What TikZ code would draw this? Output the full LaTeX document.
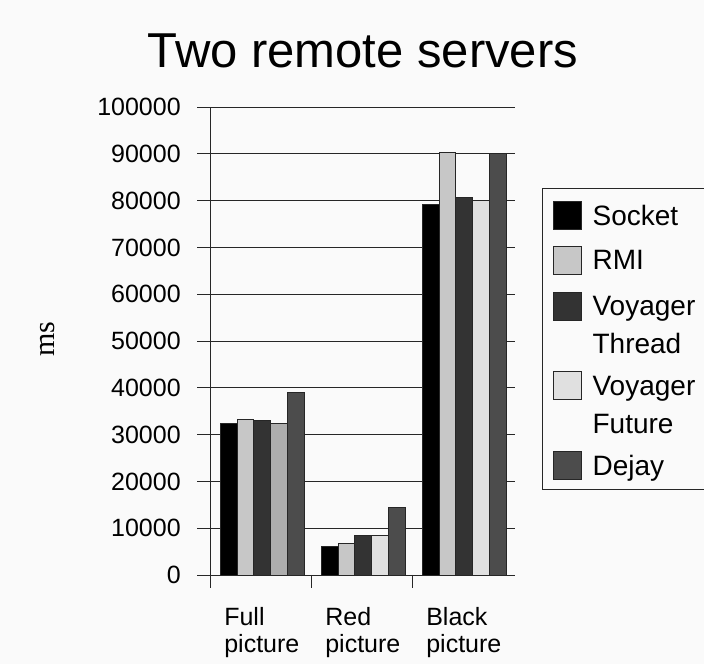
\documentclass[tikz,border=0pt]{standalone}
\usepackage{fontspec}
\setmainfont{Liberation Sans}
\newfontfamily\unitfont{Liberation Serif}
\usepackage{tikz}
\usetikzlibrary{positioning}
\definecolor{socket}{gray}{0}
\definecolor{rmi}{gray}{0.78}
\definecolor{vthread}{gray}{0.2}
\definecolor{vfuture}{gray}{0.88}
\definecolor{vfutureb}{gray}{0.68}
\definecolor{dejay}{gray}{0.3}
\definecolor{paper}{gray}{0.98}

\begin{document}
\begin{tikzpicture}[x=1pt,y=1pt,semithick]
\tikzstyle{bar} = [draw=black!85, line width=0.6pt]
\tikzstyle{grid} = [draw=black!85, line width=0.8pt]
\tikzstyle{ylabel} = [anchor=east, inner sep=0pt, font=\fontsize{25}{25}\selectfont]
\tikzstyle{catlabel} = [inner sep=0pt, align=left, font=\fontsize{25}{27}\selectfont]
\tikzstyle{swatch} = [draw=black!85, line width=0.6pt, minimum size=28pt, inner sep=0pt]
\tikzstyle{entry} = [inner sep=0pt, align=left, font=\fontsize{28}{38}\selectfont]

\useasboundingbox[fill=paper] (0,0) rectangle (704,664);

\node (title) [anchor=base, inner sep=0pt, font=\fontsize{49}{49}\selectfont] at (363,596) {Two remote servers};
\node (unit) [rotate=90, inner sep=0pt, font=\unitfont\fontsize{30}{30}\selectfont] at (48,325) {ms};

\begin{scope}[shift={(210,89)}, y=4.68pt]
% grid and value axis
\foreach \v in {1,...,10}
{
   \draw[grid] (-13pt,\v*10) -- (305,\v*10);
}
\foreach \v in {0,...,10}
{
   \node[ylabel] (Y\v) at (-29,\v*10) {\the\numexpr \v*10000\relax};
}

% bars
\foreach \c/\bars in {0/{32.4/socket,33.2/rmi,33.0/vthread,32.4/vfutureb,39.0/dejay},
                      1/{6.2/socket,6.8/rmi,8.5/vthread,8.5/vfuture,14.5/dejay},
                      2/{79.3/socket,90.4/rmi,80.8/vthread,80.1/vfuture,90.2/dejay}}
{
   \foreach \v/\col [count=\i from 0] in \bars
   {
      \draw[bar, fill=\col] ({10+101*\c+16.8*\i},0) rectangle ++(16.8,\v);
   }
}

% axes
\draw[grid] (-13pt,0) -- (305,0);
\draw[grid] (0,-13pt) -- (0,100);
\foreach \c in {0,1,2}
{
   \draw[grid] (101*\c,0) -- (101*\c,-13pt) coordinate (T\c);
}
\node[catlabel] (CAT0) [below right = 19pt and 14pt of T0] {Full\\picture};
\node[catlabel] (CAT1) [below right = 19pt and 14pt of T1] {Red\\picture};
\node[catlabel] (CAT2) [below right = 19pt and 14pt of T2] {Black\\picture};
\end{scope}

% legend
\draw[grid] (704,476) -- (542,476) -- (542,175) -- (704,175);
\node[swatch, fill=socket] (Lsocket) at (567,449) {};
\node[swatch, fill=rmi] (Lrmi) [below = 17pt of Lsocket] {};
\node[swatch, fill=vthread] (Lvthread) [below = 17pt of Lrmi] {};
\node[swatch, fill=vfuture] (Lvfuture) [below = 51pt of Lvthread] {};
\node[swatch, fill=dejay] (Ldejay) [below = 51pt of Lvfuture] {};

\node[entry] (Esocket) [right = 11pt of Lsocket.north east, anchor=north west, yshift=-4pt] {Socket};
\node[entry] (Ermi) [right = 11pt of Lrmi.north east, anchor=north west, yshift=-4pt] {RMI};
\node[entry] (Evthread) [right = 11pt of Lvthread.north east, anchor=north west, yshift=-4pt] {Voyager\\Thread};
\node[entry] (Evfuture) [right = 11pt of Lvfuture.north east, anchor=north west, yshift=-4pt] {Voyager\\Future};
\node[entry] (Edejay) [right = 11pt of Ldejay.north east, anchor=north west, yshift=-4pt] {Dejay};

\end{tikzpicture}
\end{document}
